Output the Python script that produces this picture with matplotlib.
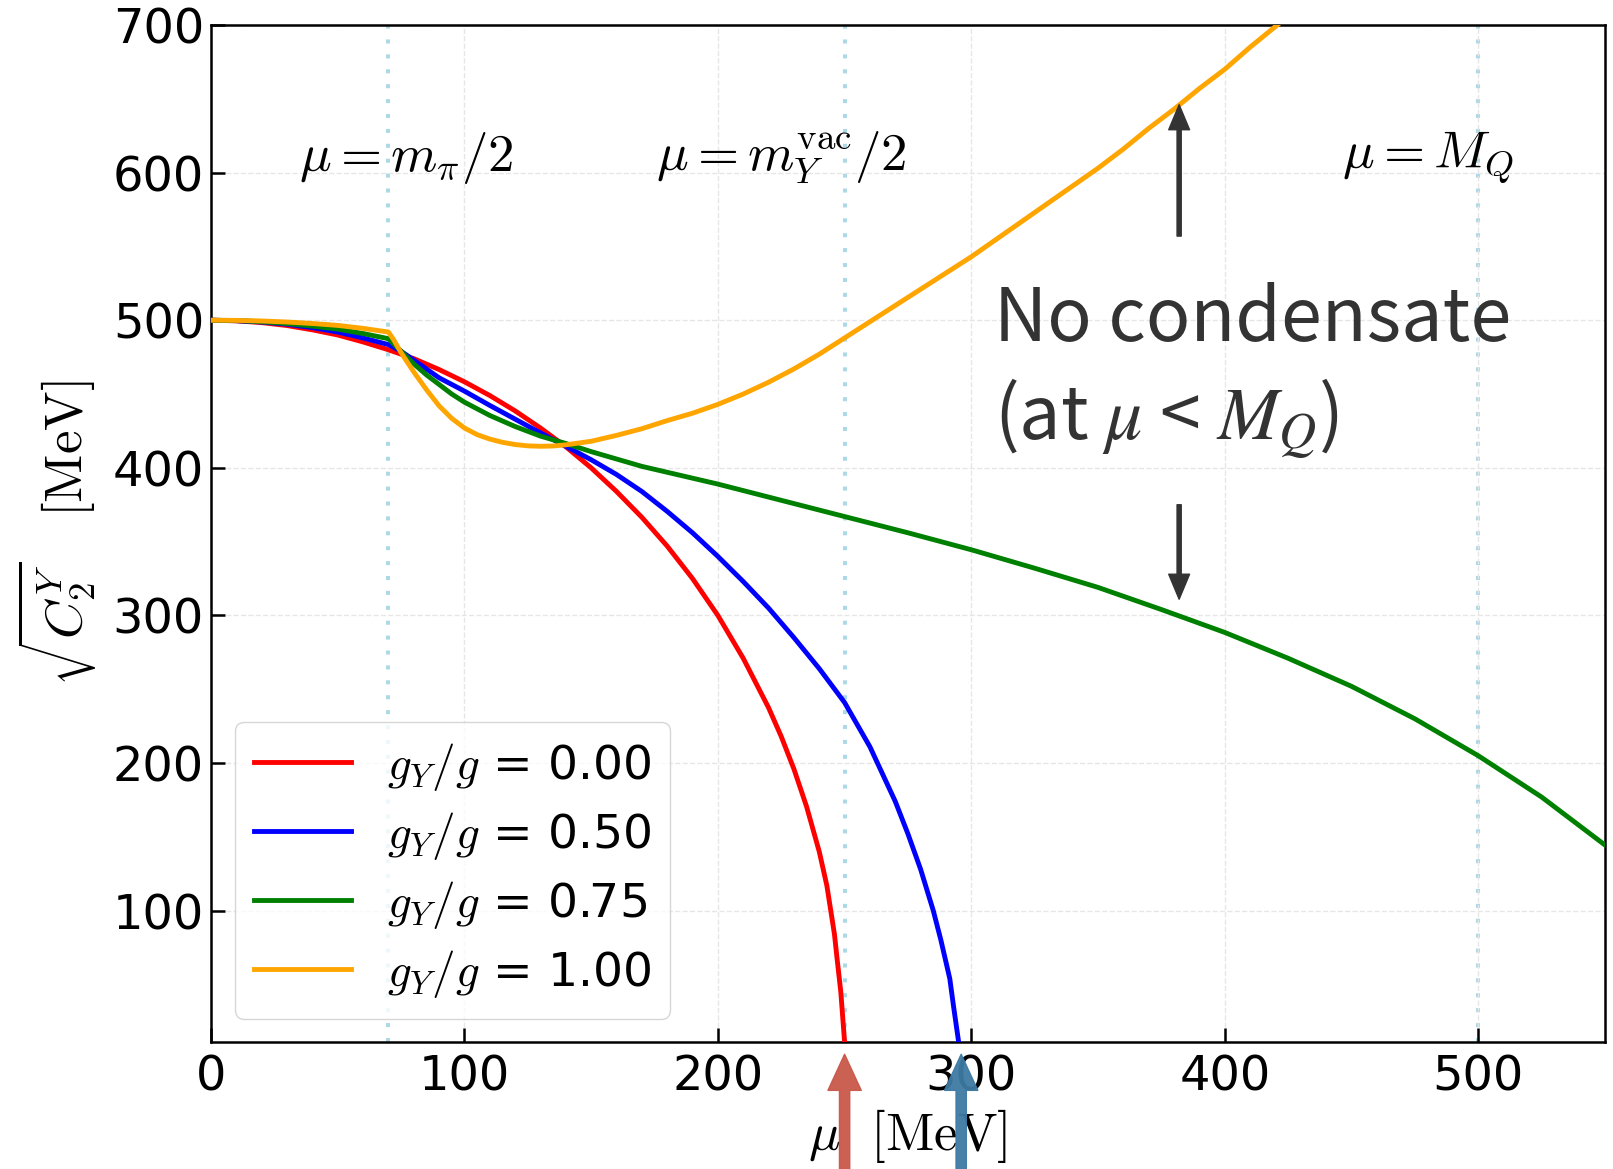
import numpy as np
import matplotlib
matplotlib.use("Agg")
import matplotlib.pyplot as plt

plt.rcParams['mathtext.fontset'] = 'cm'
plt.rcParams['font.family'] = ['DejaVu Sans']

# chemical potential mu [MeV] and sqrt(C2^Y) [MeV]
mu_red = [0, 10, 20, 30, 40, 50, 60, 70, 80, 90, 100, 110, 120, 130, 140, 150, 160,
          170, 180, 190, 200, 210, 220, 225, 230, 235, 240, 243, 246, 247, 248.5, 250]
c_red = [500, 499.6, 498.4, 496.4, 493.5, 490, 485.3, 480, 474, 466.6, 458.3, 449,
         438.6, 427, 414.3, 400, 384, 366.5, 347, 325, 300, 271, 237.5, 218, 196,
         170.5, 140, 117, 84, 68, 45, 11]

mu_blue = [0, 10, 20, 30, 40, 50, 60, 70, 75, 80, 90, 100, 110, 120, 130, 140, 150,
           160, 170, 180, 190, 200, 210, 220, 230, 240, 250, 260, 270, 275, 280, 285,
           288, 291.5, 293, 295]
c_blue = [500, 499.7, 498.8, 497.3, 495, 492, 488, 483.5, 479, 473, 461, 452, 442.3,
          433, 423.7, 414.6, 405.5, 395.5, 384, 370.5, 356, 340, 323, 305, 285, 264,
          241, 211, 174, 152, 128, 100, 80, 54, 35, 11]

mu_green = [0, 10, 20, 30, 40, 50, 60, 70, 75, 80, 85, 90, 95, 100, 110, 120, 130,
            140, 150, 160, 170, 180, 190, 200, 225, 250, 275, 300, 325, 350, 375, 400,
            425, 450, 475, 500, 525, 550]
c_green = [500, 499.8, 499, 497.8, 496, 494, 491, 487.5, 479, 470.5, 463, 456.5, 450,
           444.5, 435.5, 428, 421.5, 416.5, 411, 406, 401, 397, 393, 389, 378, 367,
           356, 344.5, 332, 319, 304, 288.5, 271, 252, 230, 205, 177, 144.5]

mu_orange = [0, 10, 20, 30, 40, 50, 60, 70, 72, 75, 80, 85, 90, 95, 100, 105, 110,
             115, 120, 125, 130, 135, 140, 150, 160, 170, 180, 190, 200, 210, 220, 230,
             240, 250, 260, 270, 280, 290, 300, 310, 320, 330, 340, 350, 360, 370, 380,
             390, 400, 410, 420, 425]
c_orange = [500, 499.9, 499.5, 498.8, 497.8, 496.5, 494.5, 492, 487, 478, 465, 453,
            442, 433.5, 427, 422.5, 419.5, 417.3, 415.8, 414.9, 414.6, 414.8, 415.6,
            418, 422, 426.5, 432, 437, 443, 450, 458, 467, 477, 488, 499, 510, 521,
            532, 543, 555, 567, 579, 591, 603, 616, 630, 643, 657, 670, 685, 699, 706]

series = [(mu_red, c_red, 'red', '0.00'),
          (mu_blue, c_blue, 'blue', '0.50'),
          (mu_green, c_green, 'green', '0.75'),
          (mu_orange, c_orange, 'orange', '1.00')]

vlines = [70, 250, 500]
vline_labels = [r'$\mu = m_\pi/2$', r'$\mu = m_Y^{\rm vac}/2$', r'$\mu = M_Q$']
vlabel_x = [77, 225, 480]

fig = plt.figure(figsize=(16.13, 11.69), dpi=100)
ax = fig.add_axes([0.1308, 0.1086, 0.8642, 0.8700])

for xv in vlines:
    ax.axvline(xv, color='lightblue', lw=2.9, ls=(0, (1, 2.7)), zorder=1)

for mu, c, col, g in series:
    ax.plot(mu, c, color=col, lw=3.5, label=r'$g_Y/g$ = ' + g, zorder=3)

for xt, lab in zip(vlabel_x, vline_labels):
    ax.text(xt, 610, lab, fontsize=38, ha='center', va='center')

ax.text(309, 486, 'No condensate', fontsize=53, color='#333333',
        family=['Noto Sans CJK JP', 'DejaVu Sans'], va='baseline')
ax.text(309, 419, r'(at $\mu$ < $M_Q$)', fontsize=53, color='#333333',
        family=['Noto Sans CJK JP', 'DejaVu Sans'], va='baseline',
        math_fontfamily='stix')

# arrows around the "no condensate" note
ax.annotate('', xy=(382, 646), xytext=(382, 557),
            arrowprops=dict(width=3, headwidth=15, headlength=18, color='#333333', shrink=0))
ax.annotate('', xy=(382, 311), xytext=(382, 375),
            arrowprops=dict(width=3, headwidth=15, headlength=18, color='#333333', shrink=0))

# arrows below the axis marking where the curves hit zero
tr = ax.get_xaxis_transform()
for xv, col in [(250, '#c9584a'), (296, '#3e7aa3')]:
    ax.annotate('', xy=(xv, -0.012), xycoords=tr, xytext=(xv, -0.13), textcoords=tr,
                arrowprops=dict(width=7.4, headwidth=24, headlength=26, color=col,
                                shrink=0, alpha=0.95),
                annotation_clip=False)

ax.set_xlim(0, 550)
ax.set_ylim(11, 700)
ax.set_xticks([0, 100, 200, 300, 400, 500])
ax.set_yticks([100, 200, 300, 400, 500, 600, 700])
ax.tick_params(direction='in', labelsize=34.5, length=10, width=1.8)
ax.tick_params(axis='x', pad=8)
ax.tick_params(axis='y', pad=5)
for sp in ax.spines.values():
    sp.set_linewidth(1.8)
ax.grid(True, ls='--', lw=1, color='0.9')

ax.set_xlabel(r'$\mu\ \ [\mathrm{MeV}]$', fontsize=38, labelpad=5)
ax.set_ylabel(r'$\sqrt{C_2^Y}\ \ \ [\mathrm{MeV}]$', fontsize=38, labelpad=10)

ax.legend(loc='lower left', bbox_to_anchor=(0.017, 0.023), borderaxespad=0,
          fontsize=34, handlelength=2.07, handletextpad=0.75, labelspacing=0.36)

fig.savefig('out.png', dpi=100)
